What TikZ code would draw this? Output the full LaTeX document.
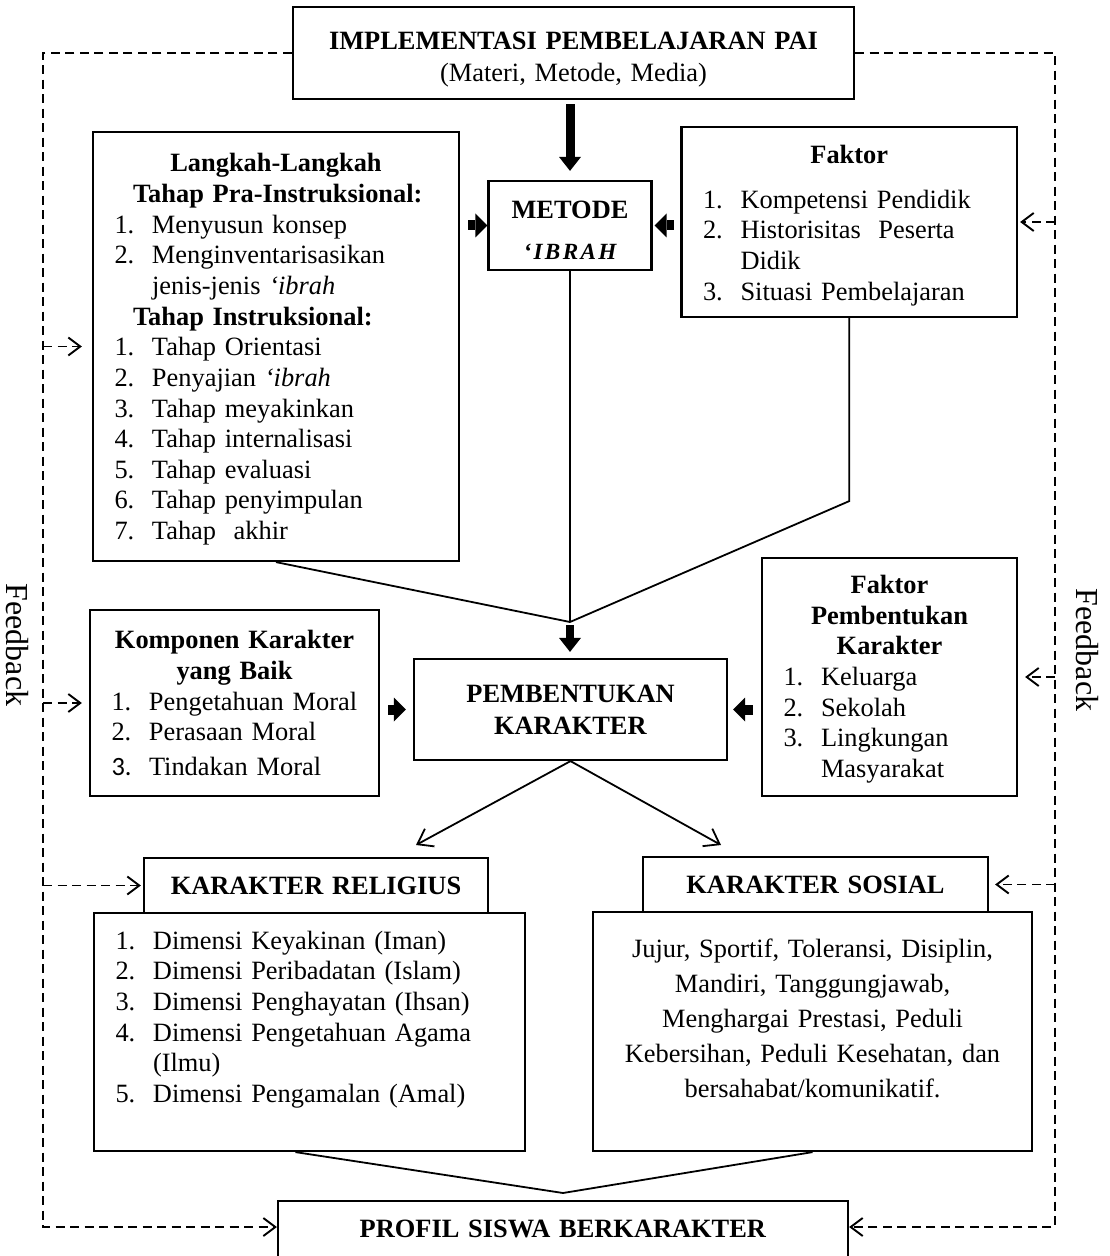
\documentclass[tikz,border=0pt]{standalone}
\usepackage{fontspec}
\setmainfont{Liberation Serif}
\newfontfamily\carlitofont{Carlito}
\usetikzlibrary{arrows.meta}
\newcommand\bodyfont{\fontsize{13.2pt}{15.33pt}\selectfont\parindent=0pt}
\newcommand\itm[2]{\hspace*{10.75pt}\makebox[18.75pt][l]{#1}#2}
\newcommand\ind[1]{\hspace*{29.5pt}#1}
\newcommand\ctr[1]{\makebox[\hsize][c]{#1}}
\begin{document}
\begin{tikzpicture}[x=0.5pt,y=-0.5pt,
  bx/.style={draw,line width=1.1pt,inner sep=0pt,align=left,font=\bodyfont},
  cbx/.style={bx,align=center},
  conn/.style={draw,line width=0.9pt},
  vtip/.style={-{Straight Barb[length=7pt,width=10pt]}},
  fb/.style={draw,line width=0.95pt,dash pattern=on 4.5pt off 2.75pt,-{Straight Barb[length=6pt,width=9pt]}},
  blk/.style={draw,line width=5pt,-{Triangle[length=6pt,width=12pt,line width=0pt]}},
  bigblk/.style={draw,line width=4.5pt,-{Triangle[length=7pt,width=11pt,line width=0pt]}},
  fbtext/.style={font=\fontsize{16pt}{19pt}\selectfont,rotate=-90,inner sep=0pt}]
\useasboundingbox (0,0) rectangle (1109,1256);
\clip (0,0) rectangle (1109,1256);

% boxes
\node[cbx,text width=280.5pt,minimum height=46pt] (top) at (573.5,53)
  {\rule{0pt}{15.5pt}\textbf{IMPLEMENTASI PEMBELAJARAN PAI}\\[0.7pt](Materi, Metode, Media)};

\node[bx,text width=183pt,minimum height=214.5pt] (langkah) at (276,346.5)
  {\rule{0pt}{12pt}\ctr{\textbf{Langkah-Langkah}}\\
   \hspace*{20pt}\textbf{Tahap Pra-Instruksional:}\\
   \itm{1.}{Menyusun konsep}\\
   \itm{2.}{Menginventarisasikan}\\
   \ind{jenis-jenis \textit{‘ibrah}}\\
   \hspace*{20pt}\textbf{Tahap Instruksional:}\\
   \itm{1.}{Tahap Orientasi}\\
   \itm{2.}{Penyajian \textit{‘ibrah}}\\
   \itm{3.}{Tahap meyakinkan}\\
   \itm{4.}{Tahap internalisasi}\\
   \itm{5.}{Tahap evaluasi}\\
   \itm{6.}{Tahap penyimpulan}\\
   \itm{7.}{Tahap\ \ akhir}};

\node[cbx,text width=81.5pt,minimum height=44.5pt] (metode) at (570,225.5)
  {\rule{0pt}{13.5pt}\textbf{METODE}\\[5.6pt]{\fontsize{11.6pt}{12pt}\selectfont\bfseries\itshape\addfontfeature{LetterSpace=10}‘IBRAH}};

\node[bx,text width=167.75pt,minimum height=95pt] (faktor) at (849.25,222)
  {\rule{0pt}{12.5pt}\ctr{\textbf{Faktor}}\\[7pt]
   \itm{1.}{Kompetensi Pendidik}\\
   \itm{2.}{Historisitas\ \ Peserta}\\
   \ind{Didik}\\
   \itm{3.}{Situasi Pembelajaran}};

\node[bx,text width=144.5pt,minimum height=93pt] (komponen) at (234.5,703)
  {\ctr{\textbf{Komponen Karakter}}\\
   \ctr{\textbf{yang Baik}}\\
   \itm{1.}{Pengetahuan Moral}\\
   \itm{2.}{Perasaan Moral}\\[2pt]
   \itm{{\carlitofont 3.}}{Tindakan Moral}};

\node[cbx,text width=156.5pt,minimum height=50.5pt] (pemb) at (570.5,709.5)
  {\textbf{PEMBENTUKAN}\\[0.7pt]\textbf{KARAKTER}};

\node[bx,text width=127.5pt,minimum height=119pt] (fp) at (889.5,677)
  {\rule{0pt}{11.5pt}\ctr{\textbf{Faktor}}\\
   \ctr{\textbf{Pembentukan}}\\
   \ctr{\textbf{Karakter}}\\
   \itm{1.}{Keluarga}\\
   \itm{2.}{Sekolah}\\
   \itm{3.}{Lingkungan}\\
   \ind{Masyarakat}};

\node[cbx,text width=172pt,minimum height=27.5pt] (relh) at (316,885.5)
  {\textbf{KARAKTER RELIGIUS}};
\node[bx,text width=215.5pt,minimum height=119pt] (religius) at (309.5,1032)
  {\itm{1.}{Dimensi Keyakinan (Iman)}\\
   \itm{2.}{Dimensi Peribadatan (Islam)}\\
   \itm{3.}{Dimensi Penghayatan (Ihsan)}\\
   \itm{4.}{Dimensi Pengetahuan Agama}\\
   \ind{(Ilmu)}\\
   \itm{5.}{Dimensi Pengamalan (Amal)}\\
   \mbox{}};

\node[cbx,text width=172.5pt,minimum height=27.5pt] (sosh) at (815.5,884.5)
  {\textbf{KARAKTER SOSIAL}};
\node[cbx,text width=219.5pt,minimum height=119.5pt,font=\fontsize{13.2pt}{17.5pt}\selectfont] (sosial) at (812.5,1031.5)
  {Jujur, Sportif, Toleransi, Disiplin,\\
   Mandiri, Tanggungjawab,\\
   Menghargai Prestasi, Peduli\\
   Kebersihan, Peduli Kesehatan, dan\\
   bersahabat/komunikatif.\\[-4pt]
   \mbox{}};

\node[cbx,text width=285pt,text height=18pt,text depth=30pt,anchor=north] (profil) at (563,1200)
  {\textbf{PROFIL SISWA BERKARAKTER}};

\node[fbtext] (fbL) at (17,645) {Feedback};
\node[fbtext] (fbR) at (1087,650) {Feedback};

% connectors
\coordinate (J) at (570,622);
\coordinate (aL) at (416,845);
\coordinate (aR) at (721,845);
\coordinate (P) at (563,1193);
\coordinate (FL) at (43,1227);
\coordinate (FR) at (1055,1227);

\draw[bigblk,shorten <=2pt,shorten >=4.5pt] (metode.north |- top.south) -- (metode.north);
\draw[blk,shorten <=4pt] (langkah.east |- metode.west) -- (metode.west);
\draw[blk,shorten <=3.25pt,shorten >=1pt] (faktor.west |- metode.east) -- (metode.east);

\draw[conn] (metode.south) -- (J);
\draw[conn] (langkah.south) -- (J);
\draw[conn] (faktor.south) -- ++(0,183) -- (J);
\draw[bigblk,line width=4.25pt,shorten <=1.5pt,shorten >=3pt] (J) -- (J |- pemb.north);

\draw[blk,shorten <=4pt,shorten >=3.5pt] (komponen.east |- pemb.west) -- (pemb.west);
\draw[blk,shorten <=4pt,shorten >=2.5pt] (fp.west |- pemb.east) -- (pemb.east);

\draw[conn,vtip] (pemb.south) -- (aL);
\draw[conn,vtip] (pemb.south) -- (aR);

\draw[conn] ([xshift=-7pt]religius.south) -- (P) -- (sosial.south);

% feedback loops
\draw[fb] (top.west) -| (FL) -- (FL -| profil.west);
\draw[fb] (top.east) -| (FR) -- (FR -| profil.east);
\draw[fb,shorten >=5pt] (FL |- langkah.west) -- (langkah.west);
\draw[fb,shorten >=3.5pt] (FL |- komponen.west) -- (komponen.west);
\draw[fb,shorten >=1pt] (FL |- relh.west) -- (relh.west);
\draw[fb,shorten >=1pt] (FR |- faktor.east) -- (faktor.east);
\draw[fb,shorten >=3.5pt] (FR |- fp.east) -- (fp.east);
\draw[fb,shorten >=3pt] (FR |- sosh.east) -- (sosh.east);
\end{tikzpicture}
\end{document}
